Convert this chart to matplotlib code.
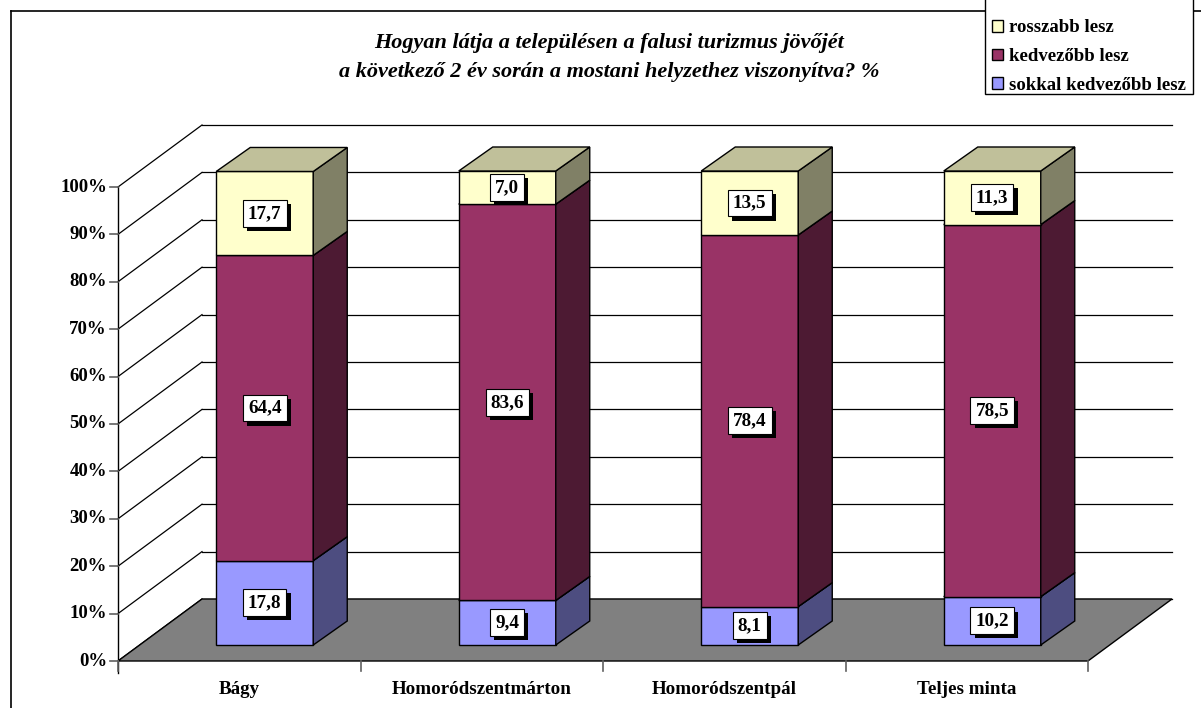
import matplotlib
matplotlib.use("Agg")
import matplotlib.pyplot as plt
from matplotlib.patches import Polygon, Patch, Rectangle
from matplotlib.lines import Line2D
import matplotlib.patheffects as pe

categories = ["Bágy", "Homoródszentmárton", "Homoródszentpál", "Teljes minta"]
series_names = ["sokkal kedvezőbb lesz", "kedvezőbb lesz", "rosszabb lesz"]
sokkal_kedvezobb = [17.8, 9.4, 8.1, 10.2]
kedvezobb = [64.4, 83.6, 78.4, 78.5]
rosszabb = [17.7, 7.0, 13.5, 11.3]
series_values = [sokkal_kedvezobb, kedvezobb, rosszabb]
y_ticks = [0, 10, 20, 30, 40, 50, 60, 70, 80, 90, 100]
y_tick_labels = [f"{t}%" for t in y_ticks]
title_lines = ["Hogyan látja a településen a falusi turizmus jövőjét",
               "a következő 2 év során a mostani helyzethez viszonyítva? %"]

front_colors = ["#9999FF", "#993366", "#FFFFCC"]
side_colors = ["#4D4D80", "#4D1A33", "#808066"]
top_colors = ["#7373BF", "#73264D", "#C0C09A"]

FONT = "Liberation Serif"
W, H = 1201, 708
fig = plt.figure(figsize=(W / 100, H / 100), dpi=100)
ax = fig.add_axes([0, 0, 1, 1])

# pixel mapping of front plane: x 0..4 -> 118..1088, y 0..100 -> 661..187
X0, XS = 118.0, 242.5
Y0, YS = 661.0, 4.74
ax.set_xlim(-X0 / XS, (W - X0) / XS)
ax.set_ylim((Y0 - H) / YS, Y0 / YS)
ax.axis("off")

n = len(categories)
DX, DY = 84 / XS, 62 / YS           # full depth of the plot box
BOX, BOY = 25.5 / XS, 16 / YS       # bar front face offset into depth
BDX, BDY = 34 / XS, 24 / YS         # bar depth
BW = 0.4                            # bar width (category units)

# back wall gridlines + side wall diagonals
for t in y_ticks:
    ax.plot([0, DX], [t, t + DY], color="black", lw=0.9, zorder=1)
    ax.plot([DX, n + DX], [t + DY, t + DY], color="black", lw=0.9, zorder=1)

# floor
floor = Polygon([(0, 0), (n, 0), (n + DX, DY), (DX, DY)], closed=True,
                facecolor="#808080", edgecolor="black", lw=1.0, zorder=2)
ax.add_patch(floor)

# y axis
ax.plot([0, 0], [100, -12 / YS], color="black", lw=1.0, zorder=3)
for t, lab in zip(y_ticks, y_tick_labels):
    ax.plot([-8 / XS, 0], [t, t], color="#606060", lw=1.2, zorder=3)
    ax.text(-11 / XS, t, lab, ha="right", va="center", fontsize=13.5,
            fontweight="bold", family=FONT, zorder=3)

# x ticks and labels
for k in range(n + 1):
    ax.plot([k, k], [0, -10 / YS], color="#606060", lw=1.2, zorder=3)
for i, c in enumerate(categories):
    ax.text(i + 0.5, -28 / YS, c, ha="center", va="center", fontsize=13.7,
            fontweight="bold", family=FONT, zorder=3)

# bars
for i in range(n):
    xl = i + 0.5 - BW / 2 + BOX
    xr = xl + BW
    base = BOY
    nseg = len(series_values)
    for s in range(nseg):
        v = series_values[s][i]
        y1 = base
        y2 = base + v
        z = 5 + s
        front = Polygon([(xl, y1), (xr, y1), (xr, y2), (xl, y2)], closed=True,
                        facecolor=front_colors[s], edgecolor="black", lw=1.0, zorder=z)
        side = Polygon([(xr, y1), (xr + BDX, y1 + BDY), (xr + BDX, y2 + BDY), (xr, y2)],
                       closed=True, facecolor=side_colors[s], edgecolor="black", lw=1.0, zorder=z)
        top = Polygon([(xl, y2), (xr, y2), (xr + BDX, y2 + BDY), (xl + BDX, y2 + BDY)],
                      closed=True, facecolor=top_colors[s], edgecolor="black", lw=1.0, zorder=z)
        for p in (front, side, top):
            ax.add_patch(p)
        lab = f"{v:.1f}".replace(".", ",")
        txt = ax.text((xl + xr) / 2, (y1 + y2) / 2, lab, ha="center", va="center",
                      fontsize=13.8, fontweight="bold", family=FONT, zorder=20,
                      bbox=dict(boxstyle="square,pad=0.26", facecolor="white",
                                edgecolor="black", lw=0.8))
        txt.get_bbox_patch().set_path_effects(
            [pe.SimplePatchShadow(offset=(3, -3), shadow_rgbFace="black", alpha=1.0),
             pe.Normal()])
        base = y2

# title
ax.text((609 - X0) / XS, (Y0 - 43) / YS, title_lines[0], ha="center", va="center",
        fontsize=16, fontweight="bold", fontstyle="italic", family=FONT)
ax.text((609 - X0) / XS, (Y0 - 72) / YS, title_lines[1], ha="center", va="center",
        fontsize=16, fontweight="bold", fontstyle="italic", family=FONT)

# outer border
fig.add_artist(Line2D([11 / W, 11 / W], [0, 1 - 11 / H], color="black", lw=1.2,
                      transform=fig.transFigure))
fig.add_artist(Line2D([11 / W, 1], [1 - 11 / H, 1 - 11 / H], color="black", lw=1.2,
                      transform=fig.transFigure))

# legend box (extends to the top edge)
legbox = Rectangle((985 / W, 1 - 94 / H), (1193 - 985) / W, 96 / H,
                   transform=fig.transFigure, facecolor="white", edgecolor="black",
                   lw=1.0, zorder=25)
fig.add_artist(legbox)
handles = [Patch(facecolor=front_colors[s], edgecolor="black", label=series_names[s])
           for s in reversed(range(len(series_names)))]
leg = fig.legend(handles=handles, loc="lower left",
                 bbox_to_anchor=(986 / W, 1 - 99.5 / H), bbox_transform=fig.transFigure,
                 frameon=False,
                 prop=dict(family=FONT, weight="bold", size=13.5),
                 handlelength=0.6, handleheight=0.6, handletextpad=0.35,
                 labelspacing=0.63, borderpad=0.3, borderaxespad=0)
leg.set_zorder(30)

fig.savefig("out.png", dpi=100)
